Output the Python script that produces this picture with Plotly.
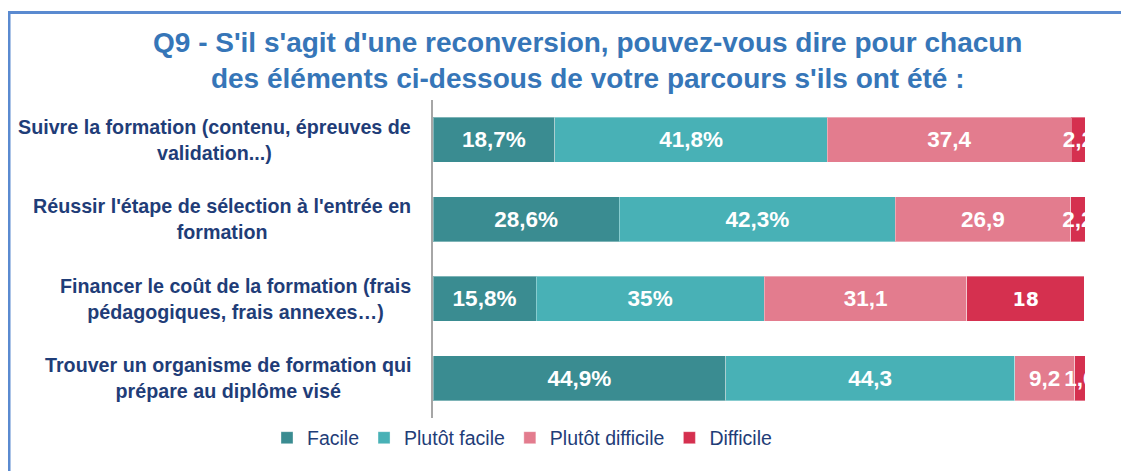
import plotly.graph_objects as go

# ---- data ----
categories = [
    "Suivre la formation (contenu, épreuves de<br>validation...)",
    "Réussir l'étape de sélection à l'entrée en<br>formation",
    "Financer le coût de la formation (frais<br>pédagogiques, frais annexes…)",
    "Trouver un organisme de formation qui<br>prépare au diplôme visé",
]
series_names = ["Facile", "Plutôt facile", "Plutôt difficile", "Difficile"]
facile = [18.7, 28.6, 15.8, 44.9]
plutot_facile = [41.8, 42.3, 35, 44.3]
plutot_difficile = [37.4, 26.9, 31.1, 9.2]
difficile = [2.2, 2.2, 18, 1.6]
# whether the data label carries a "%" sign
pct_facile = [True, True, True, True]
pct_plutot_facile = [True, True, True, False]
pct_plutot_difficile = [False, False, False, False]
pct_difficile = [False, False, False, False]

title_text = ("Q9 - S'il s'agit d'une reconversion, pouvez-vous dire pour chacun<br>"
              "des éléments ci-dessous de votre parcours s'ils ont été :")

colors = ["#3A8C91", "#48B1B6", "#E37C8E", "#D5304F"]
SANS = "Liberation Sans, Arial, sans-serif"
NAVY = "#1F3D78"

# page offset (browser body margin) so that positions match the window
OFF = 8
W, H = 1129 - OFF, 471 - OFF
# plot area in window pixels: x 433..1085, y 100..418
L, R, T, B = 433 - OFF, 1129 - 1085, 100 - OFF, 471 - 418


def px_x(px):
    return (px - OFF - L) / (W - L - R)


def px_y(py):
    return (H - B - (py - OFF)) / (H - T - B)


def fmt(v, pct):
    s = f"{v:g}".replace(".", ",")
    return s + ("%" if pct else "")


fig = go.Figure()
all_vals = [facile, plutot_facile, plutot_difficile, difficile]
all_pct = [pct_facile, pct_plutot_facile, pct_plutot_difficile, pct_difficile]
for name, vals, pcts, col in zip(series_names, all_vals, all_pct, colors):
    sizes = [22.5] * len(vals)
    fams = [SANS] * len(vals)
    if name == "Difficile":
        sizes = [22.5, 22.5, 19, 22.5]
        fams = [SANS, SANS, "DejaVu Sans, sans-serif", SANS]
    fig.add_trace(go.Bar(
        name=name,
        y=categories,
        x=vals,
        orientation="h",
        marker=dict(color=col, line=dict(color="rgba(255,255,255,0.35)", width=1)),
        text=[fmt(v, p) for v, p in zip(vals, pcts)],
        textposition="inside",
        insidetextanchor="middle",
        textangle=0,
        constraintext="none",
        cliponaxis=True,
        textfont=dict(color="white", size=sizes, family=fams, weight="bold"),
        hoverinfo="skip",
    ))

annotations = []
for c in categories:
    annotations.append(dict(
        text=c, xref="paper", yref="y", x=px_x(413), y=c,
        xanchor="right", yanchor="middle", align="center", showarrow=False,
        font=dict(family=SANS, size=19.7, color=NAVY, weight="bold"),
    ))
annotations.append(dict(
    text=title_text, xref="paper", yref="paper", x=px_x(587), y=px_y(60.5),
    xanchor="center", yanchor="middle", align="center", showarrow=False,
    font=dict(family=SANS, size=28, color="#3676B8", weight="bold"),
))

frame_col = "#5A8AD0"
shapes = [
    dict(type="line", xref="paper", yref="paper", x0=px_x(8), x1=px_x(1129),
         y0=px_y(12.5), y1=px_y(12.5), line=dict(color=frame_col, width=3)),
    dict(type="line", xref="paper", yref="paper", x0=px_x(9), x1=px_x(9),
         y0=px_y(12.5), y1=px_y(471), line=dict(color=frame_col, width=3)),
]

fig.update_layout(
    width=W, height=H,
    margin=dict(l=L, r=R, t=T, b=B, autoexpand=False),
    barmode="stack",
    bargap=0.434,
    plot_bgcolor="white",
    paper_bgcolor="white",
    showlegend=True,
    legend=dict(
        orientation="h", x=px_x(267), xanchor="left", y=px_y(438), yanchor="middle",
        font=dict(family=SANS, size=19.5, color=NAVY),
        traceorder="normal", bgcolor="rgba(0,0,0,0)", itemclick=False,
    ),
    xaxis=dict(range=[0, 100], visible=False, fixedrange=True),
    yaxis=dict(
        autorange="reversed", categoryorder="array", categoryarray=categories,
        showticklabels=False, showline=True, linecolor="#A6A6A6", linewidth=2,
        ticks="", showgrid=False, zeroline=False, fixedrange=True,
    ),
    annotations=annotations,
    shapes=shapes,
)

fig.write_html("out.html")
